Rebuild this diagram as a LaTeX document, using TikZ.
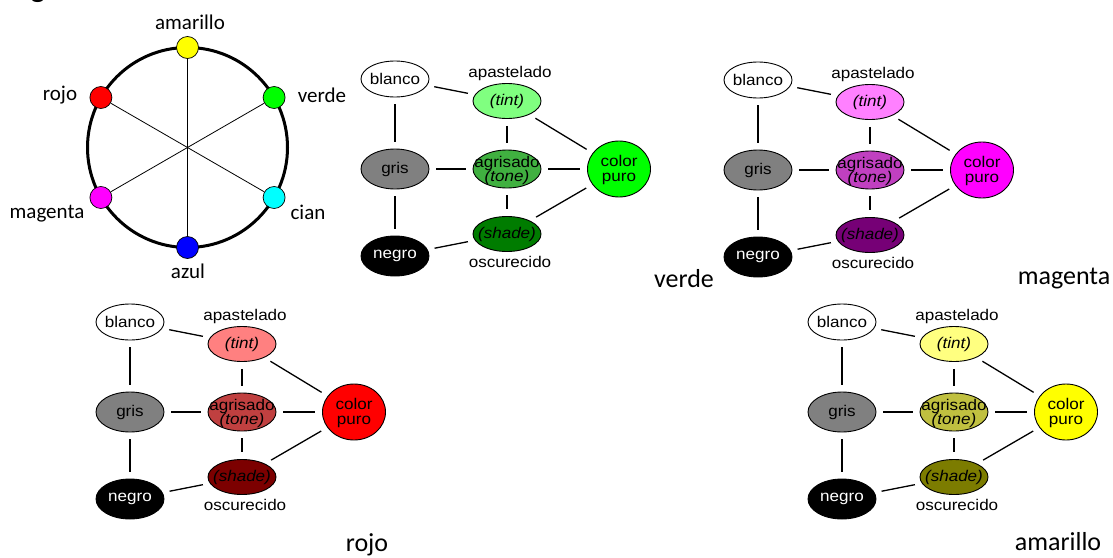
\documentclass[tikz,border=0pt]{standalone}
\usepackage{fontspec}
\usepackage{graphicx}
\setmainfont{Liberation Sans}
\newfontfamily\calfont{Carlito}
\usetikzlibrary{shapes.geometric}

\definecolor{grisc}{RGB}{128,128,128}
\definecolor{Wyellow}{RGB}{255,255,0}
\definecolor{Wcyan}{RGB}{0,255,255}
\definecolor{Wblue}{RGB}{0,0,255}
\definecolor{Wred}{RGB}{255,0,0}
\definecolor{Gtint}{RGB}{128,255,128}
\definecolor{Gtone}{RGB}{64,176,64}
\definecolor{Gshade}{RGB}{0,124,0}
\definecolor{Gpure}{RGB}{0,255,0}
\definecolor{Mtint}{RGB}{255,128,255}
\definecolor{Mtone}{RGB}{192,64,192}
\definecolor{Mshade}{RGB}{118,0,118}
\definecolor{Mpure}{RGB}{255,0,255}
\definecolor{Rtint}{RGB}{255,128,128}
\definecolor{Rtone}{RGB}{192,64,64}
\definecolor{Rshade}{RGB}{124,0,0}
\definecolor{Rpure}{RGB}{255,0,0}
\definecolor{Ytint}{RGB}{255,255,128}
\definecolor{Ytone}{RGB}{192,192,64}
\definecolor{Yshade}{RGB}{124,124,0}
\definecolor{Ypure}{RGB}{255,255,0}

\newcommand\wx[1]{\scalebox{1.1}[1]{#1}}

\tikzset{
  el/.style={ellipse, draw=black, line width=0.9pt, inner sep=0pt, minimum width=68pt},
  tx/.style={font=\fontsize{15.5}{18}\selectfont, inner sep=0pt},
  cn/.style={line width=1.3pt, shorten >=7pt, shorten <=7pt},
  dot/.style={circle, draw=black, line width=0.7pt, minimum size=22pt, inner sep=0pt},
  wl/.style={font=\calfont\fontsize{21}{24}\selectfont, inner sep=0pt},
  bl/.style={font=\calfont\fontsize{26}{30}\selectfont, inner sep=0pt},
}

% #1 prefix, #2 x, #3 y, #4 tint, #5 tone, #6 shade, #7 pure
\newcommand\cgraph[7]{%
\begin{scope}[shift={(#2,#3)}]
  \node[el, minimum height=36pt, fill=white] (#1b) at (0,0) {};
  \node[el, minimum height=35pt, fill=#4] (#1t) at (112,22) {};
  \node[el, minimum height=40pt, fill=grisc] (#1g) at (0,90) {};
  \node[el, minimum height=38pt, fill=#5] (#1a) at (112,90) {};
  \node[el, minimum width=63pt, minimum height=56pt, fill=#7] (#1c) at (224,90) {};
  \node[el, minimum height=35pt, fill=#6] (#1s) at (112,155) {};
  \node[el, minimum height=40pt, fill=black] (#1n) at (0,177) {};
  \node[tx] (#1Tb) at (0,0) {\wx{blanco}};
  \node[tx] (#1Tt) at (112,22) {\wx{\itshape (tint)}};
  \node[tx] (#1Tg) at (0,90) {\wx{gris}};
  \node[tx, anchor=base] (#1Ta1) at (112,88) {\wx{agrisado}};
  \node[tx, anchor=base] (#1Ta2) at (112,102) {\wx{\itshape (tone)}};
  \node[tx, anchor=base] (#1Tc1) at (224,87) {\wx{color}};
  \node[tx, anchor=base] (#1Tc2) at (224,102) {\wx{puro}};
  \node[tx] (#1Ts) at (112,155) {\wx{\itshape (shade)}};
  \node[tx, text=white] (#1Tn) at (0,177) {\wx{negro}};
  \node[tx] (#1La) at (115,-6) {\wx{apastelado}};
  \node[tx] (#1Lo) at (115,183) {\wx{oscurecido}};
  \draw[cn] (#1b) -- (#1t);
  \draw[cn] (#1b) -- (#1g);
  \draw[cn] (#1g) -- (#1n);
  \draw[cn] (#1g) -- (#1a);
  \draw[cn] (#1t) -- (#1a);
  \draw[cn] (#1a) -- (#1s);
  \draw[cn] (#1a) -- (#1c);
  \draw[cn] (#1t) -- (#1c);
  \draw[cn] (#1s) -- (#1c);
  \draw[cn] (#1n) -- (#1s);
\end{scope}}

\begin{document}
\begin{tikzpicture}[x=1pt,y=-1pt]
\useasboundingbox (0,0) rectangle (1113,557);
\fill[white] (0,0) rectangle (1113,557);

% cropped heading fragment
\begin{scope}
  \clip (0,0) rectangle (90,6);
  \node[font=\calfont\bfseries\fontsize{30}{34}\selectfont, inner sep=0pt, anchor=base] (frag) at (38,-3) {g};
\end{scope}

% colour wheel
\coordinate (wc) at (187.5,147.5);
\draw[line width=3pt] (wc) circle[radius=100];
\node[dot, fill=Wyellow] (am) at (187.5,47.5) {};
\node[dot, fill=Gpure] (ve) at (274.1,97.5) {};
\node[dot, fill=Wcyan] (ci) at (274.1,197.5) {};
\node[dot, fill=Wblue] (az) at (187.5,247.5) {};
\node[dot, fill=Mpure] (ma) at (100.9,197.5) {};
\node[dot, fill=Wred] (ro) at (100.9,97.5) {};
\draw[line width=0.8pt] (am) -- (az);
\draw[line width=0.8pt] (ro) -- (ci);
\draw[line width=0.8pt] (ve) -- (ma);
\node[wl] (lam) at (190,22) {amarillo};
\node[wl] (lve) at (322,95) {verde};
\node[wl] (lro) at (60,95) {rojo};
\node[wl] (lma) at (47,214) {magenta};
\node[wl] (lci) at (308,212) {cian};
\node[wl] (laz) at (188,271) {azul};

% four graphs
\cgraph{G}{395}{79}{Gtint}{Gtone}{Gshade}{Gpure}
\cgraph{M}{758}{80}{Mtint}{Mtone}{Mshade}{Mpure}
\cgraph{R}{130}{322}{Rtint}{Rtone}{Rshade}{Rpure}
\cgraph{Y}{842}{322}{Ytint}{Ytone}{Yshade}{Ypure}

% captions
\node[bl] (cve) at (684,279) {verde};
\node[bl] (cma) at (1064,279) {magenta};
\node[bl] (cro) at (367,545) {rojo};
\node[bl] (cam) at (1058,542) {amarillo};
\end{tikzpicture}
\end{document}
